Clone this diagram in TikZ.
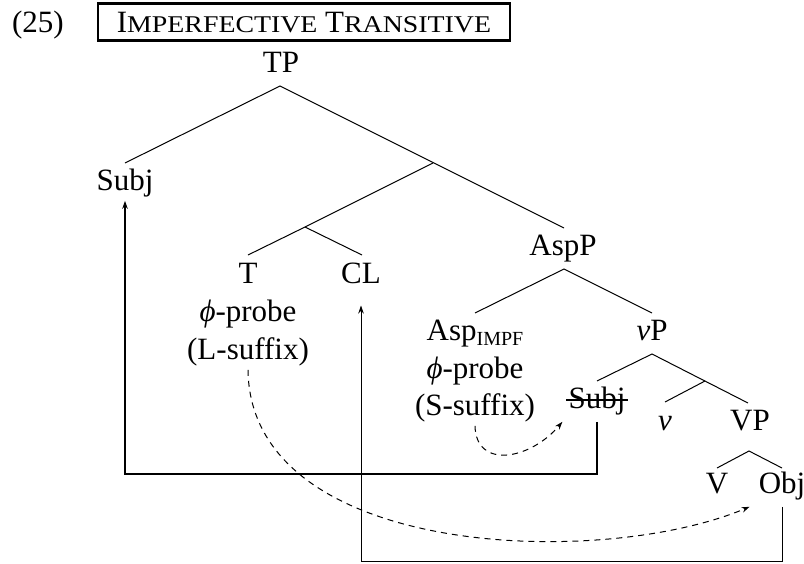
\documentclass[tikz,border=0pt]{standalone}
\usepackage{fontspec}
\setmainfont{Liberation Serif}
\usepackage{graphicx}
\usetikzlibrary{arrows.meta,calc}
\newcommand\mysmc[1]{{\fontsize{24}{24}\selectfont\scalebox{1.16}[1]{#1}}}
\begin{document}
\begin{tikzpicture}[x=1pt,y=-1pt,
  lbl/.style={font=\fontsize{31}{37}\selectfont, inner sep=4pt, anchor=base},
  branch/.style={line width=1pt},
  mv/.style={line width=1.7pt,-{Stealth[length=8pt,width=5.5pt]}},
  mvthin/.style={line width=1pt,-{Stealth[length=8pt,width=5.5pt]}},
  dsh/.style={line width=1pt,dash pattern=on 6pt off 5pt,-{Stealth[length=8pt,width=5.5pt]}}]
\useasboundingbox (0,0) rectangle (804,563);
% labels
\node[lbl] (ex) at (38,32) {(25)};
\node[lbl, draw, line width=2.8pt, inner xsep=19pt, inner ysep=8.5pt, text height=20pt, text depth=0pt] (title) at (304,32) {I\mysmc{MPERFECTIVE} T\mysmc{RANSITIVE}};
\node[lbl] (tp) at (281,72) {TP};
\node[lbl] (subj) at (125,190) {Subj};
\node[lbl] (t) at (248,283) {T};
\node[lbl] (tprobe) at (248,321) {\textit{ϕ}-probe};
\node[lbl] (tsuf) at (248,359) {(L-suffix)};
\node[lbl] (cl) at (361,283) {CL};
\node[lbl] (aspp) at (563,255) {AspP};
\node[lbl] (asp) at (475,340) {Asp\raisebox{-5pt}{\fontsize{20}{20}\selectfont IMPF}};
\node[lbl] (aprobe) at (475,378) {\textit{ϕ}-probe};
\node[lbl] (ssuf) at (475,415) {(S-suffix)};
\node[lbl] (vp) at (652,340) {\textit{v}P};
\node[lbl] (subjb) at (597,408) {Subj};
\node[lbl] (v) at (665,430) {\textit{v}};
\node[lbl] (vpbig) at (750,430) {VP};
\node[lbl] (verb) at (717,493) {V};
\node[lbl] (obj) at (782,493) {Obj};
% branch points
\coordinate (tpA) at (280,86);
\coordinate (subjT) at (125,163);
\coordinate (xb) at (433,163);
\coordinate (yb) at (305,227);
\coordinate (tT) at (248,255);
\coordinate (clT) at (362,255);
\coordinate (asppT) at (564,228);
\coordinate (asppA) at (564,269);
\coordinate (aspT) at (475,313);
\coordinate (vpT) at (652,313);
\coordinate (vpA) at (652,354);
\coordinate (subjbT) at (597,381);
\coordinate (vbarb) at (705,381);
\coordinate (vT) at (665,402);
\coordinate (vpbigT) at (748,403);
\coordinate (vpbigA) at (749,451);
\coordinate (verbT) at (717,468);
\coordinate (objT) at (782,468);
% branches
\draw[branch] (subjT) -- (tpA) -- (asppT);
\draw[branch] (xb) -- (yb) -- (tT);
\draw[branch] (yb) -- (clT);
\draw[branch] (aspT) -- (asppA) -- (vpT);
\draw[branch] (subjbT) -- (vpA) -- (vpbigT);
\draw[branch] (vbarb) -- (vT);
\draw[branch] (verbT) -- (vpbigA) -- (objT);
% strike-through
\draw[line width=1.8pt] ([shift={(2,-8)}]subjb.base west) -- ([shift={(-2,-8)}]subjb.base east);
% movement
\coordinate (lowA) at (0,474);
\coordinate (lowB) at (0,561);
\draw[mv, shorten <=3pt] (subjb.south) -- (subjb.south |- lowA) -| (subj.south);
\draw[mvthin, shorten <=3pt, shorten >=18pt] (obj.south) -- (obj.south |- lowB) -| (cl.south);
% agree
\draw[dsh] (tsuf.south) .. controls +(2,188) and +(-150,63) .. ([shift={(-5,3)}]obj.south west);
\draw[dsh] (ssuf.south) .. controls +(1,44) and +(-32,38) .. ([shift={(-2,3)}]subjb.south west);
\end{tikzpicture}
\end{document}
